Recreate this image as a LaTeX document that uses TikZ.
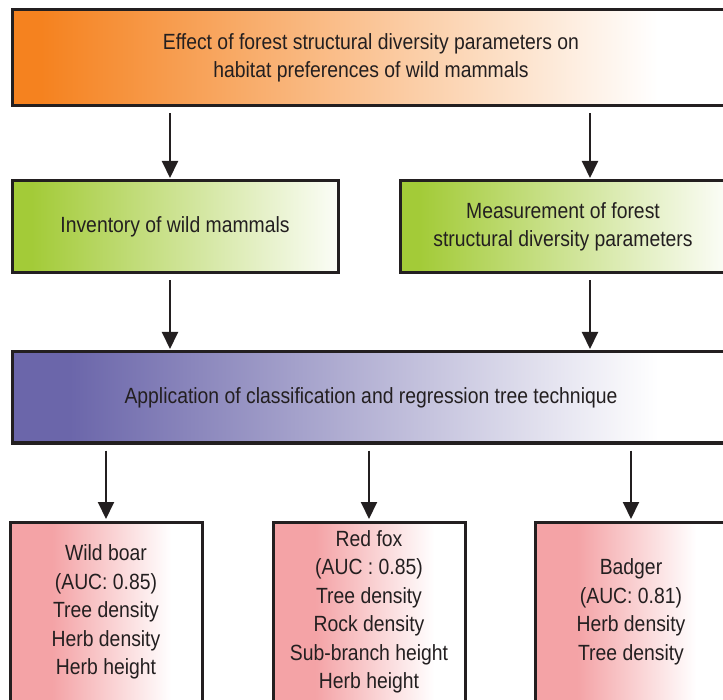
\documentclass[tikz,border=0pt]{standalone}
\usepackage{fontspec}
\setmainfont{Liberation Sans}[FakeStretch=0.88]
\usetikzlibrary{arrows.meta}
\definecolor{boxline}{HTML}{231F20}
\definecolor{orangec}{HTML}{F5821F}
\definecolor{greenc}{HTML}{A3CB38}
\definecolor{purplec}{HTML}{6B66AA}
\definecolor{pinkc}{HTML}{F4A3A6}
\pgfdeclarehorizontalshading{orangefade}{100bp}{color(0bp)=(orangec); color(27bp)=(orangec); color(70bp)=(white); color(100bp)=(white)}
\pgfdeclarehorizontalshading{greenfade}{100bp}{color(0bp)=(greenc); color(28bp)=(greenc); color(75bp)=(greenc!4!white); color(100bp)=(greenc!4!white)}
\pgfdeclarehorizontalshading{purplefade}{100bp}{color(0bp)=(purplec); color(29bp)=(purplec); color(70bp)=(white); color(100bp)=(white)}
\pgfdeclarehorizontalshading{pinkfade}{100bp}{color(0bp)=(pinkc); color(36bp)=(pinkc); color(67bp)=(white); color(100bp)=(white)}
\tikzset{
  box/.style={rectangle, draw=boxline, line width=3pt, inner sep=0pt, align=center,
    text=boxline, font=\fontsize{22}{28.5}\selectfont},
  arr/.style={draw=boxline, line width=2pt, -{Triangle[width=16pt,length=17pt]},
    shorten <=6pt, shorten >=1.5pt},
}
\begin{document}
\begin{tikzpicture}[x=1pt,y=-1pt]
\useasboundingbox (0,0) rectangle (723,700);
\clip (0,0) rectangle (723,700);

\node[box,shade,shading=orangefade,minimum width=718pt,minimum height=96pt] (b1) at (371,58)
  {Effect of forest structural diversity parameters on\\habitat preferences of wild mammals};
\node[box,shade,shading=greenfade,minimum width=326pt,minimum height=92pt] (b2) at (175,227)
  {Inventory of wild mammals};
\node[box,shade,shading=greenfade,minimum width=326pt,minimum height=92pt] (b3) at (563,227)
  {Measurement of forest\\structural diversity parameters};
\node[box,shade,shading=purplefade,minimum width=718pt,minimum height=91pt] (b4) at (371,397.5)
  {Application of classification and regression tree technique};
\node[box,shade,shading=pinkfade,minimum width=192pt,minimum height=180pt] (b5) at (106,612)
  {Wild boar\\(AUC: 0.85)\\Tree density\\Herb density\\Herb height};
\node[box,shade,shading=pinkfade,minimum width=192pt,minimum height=180pt] (b6) at (369,612)
  {Red fox\\(AUC : 0.85)\\Tree density\\Rock density\\Sub-branch height\\Herb height};
\node[box,shade,shading=pinkfade,minimum width=192pt,minimum height=180pt] (b7) at (631,612)
  {Badger\\(AUC: 0.81)\\Herb density\\Tree density};

\coordinate (xa) at (170,0);
\coordinate (xb) at (590,0);
\draw[arr] (b1.south -| xa) -- (b2.north -| xa);
\draw[arr] (b1.south -| xb) -- (b3.north -| xb);
\draw[arr] (b2.south -| xa) -- (b4.north -| xa);
\draw[arr] (b3.south -| xb) -- (b4.north -| xb);
\draw[arr] (b4.south -| b5.north) -- (b5.north);
\draw[arr] (b4.south -| b6.north) -- (b6.north);
\draw[arr] (b4.south -| b7.north) -- (b7.north);
\end{tikzpicture}
\end{document}
